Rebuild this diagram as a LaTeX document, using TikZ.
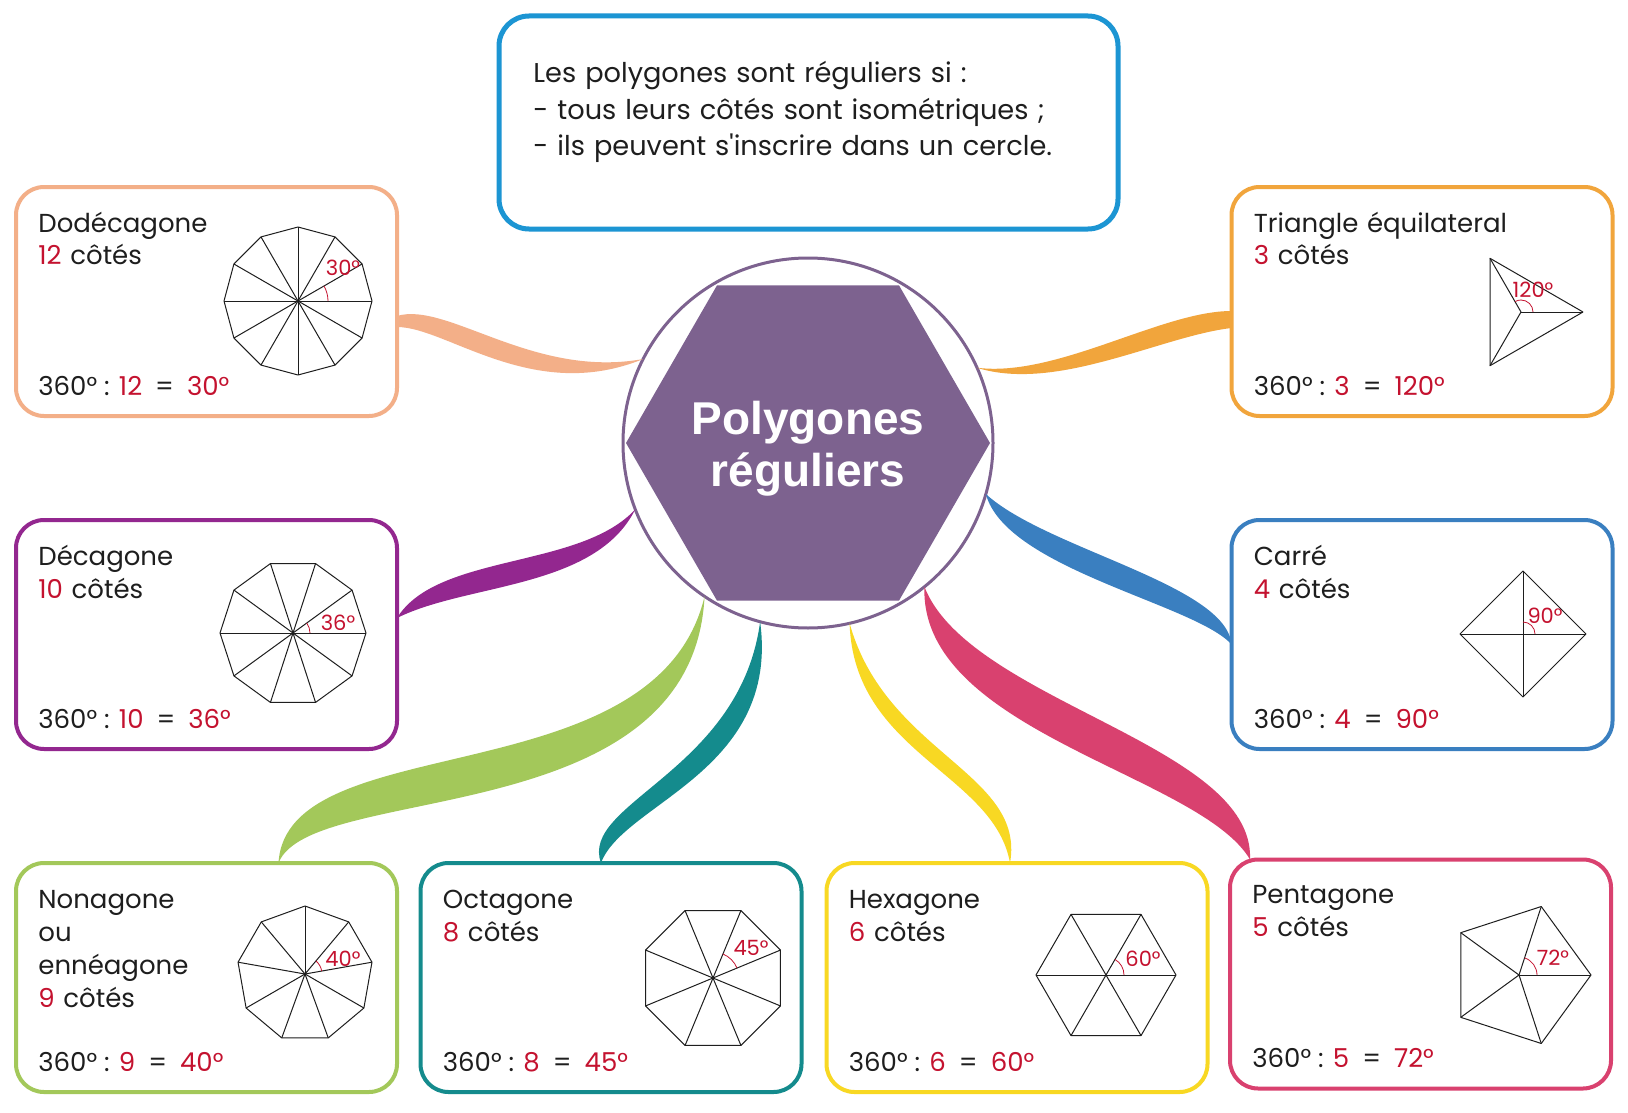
\documentclass[tikz,border=0pt]{standalone}
\usepackage{fontspec}
\setmainfont{Poppins}
\newfontfamily\hubfont{Liberation Sans}
\usetikzlibrary{shapes.geometric}
\definecolor{ink}{HTML}{1E1E1E}
\definecolor{numred}{HTML}{C4122F}
\definecolor{hubpurple}{HTML}{7D628F}
\definecolor{infoblue}{HTML}{1C95D3}
\definecolor{salmon}{HTML}{F3AF88}
\definecolor{plum}{HTML}{93278F}
\definecolor{leaf}{HTML}{A3C85A}
\definecolor{petrol}{HTML}{148B8D}
\definecolor{sun}{HTML}{F8D823}
\definecolor{rose}{HTML}{D9416F}
\definecolor{sky}{HTML}{3A7FC0}
\definecolor{amber}{HTML}{F1A53C}
\newcommand{\nb}[1]{\textcolor{numred}{#1}}
\newcommand{\eqsp}{\hspace{0.5em}}
\tikzstyle{card} = [rectangle, draw, line width=2pt, rounded corners=14pt, minimum width=190.5pt, minimum height=114.5pt, outer sep=0pt]
\tikzstyle{info} = [rectangle, draw=infoblue, line width=2.5pt, rounded corners=15pt, minimum width=309.5pt, minimum height=106.5pt, outer sep=0pt]
\tikzstyle{cardtext} = [anchor=base west, text width=175pt, align=left, inner sep=0pt, text=ink, font=\fontsize{13}{16.5}\selectfont]
\tikzstyle{infotext} = [anchor=base west, text width=295pt, align=left, inner sep=0pt, text=ink, font=\fontsize{13.6}{18.25}\selectfont]
\tikzstyle{formula} = [anchor=base west, inner sep=0pt, text=ink, font=\fontsize{13}{16.5}\selectfont]
\tikzstyle{anglab} = [inner sep=0pt, text=numred, font=\fontsize{10.5}{12}\selectfont]
\tikzstyle{edge} = [draw=ink, line width=0.5pt, line join=round]
\tikzstyle{anglearc} = [draw=numred, line width=0.4pt]
\tikzstyle{hubring} = [circle, draw=hubpurple, line width=1.5pt, minimum size=185pt, inner sep=0pt, outer sep=0pt]
\tikzstyle{hubcore} = [regular polygon, regular polygon sides=6, fill=hubpurple, minimum size=182pt, inner sep=0pt]
\tikzstyle{hubtitle} = [inner sep=0pt, text=white, align=center, font=\hubfont\bfseries\fontsize{23}{26}\selectfont]
% polygon with its spokes and the marked angle
\newcommand{\polyfig}[8]{%
	\begin{scope}[shift={(#1,#2)}, y=0.5pt]
		\draw [edge] (#5:#4) \foreach \k in {1,...,#3} { -- ({#5+\k*360/#3}:#4) };
		\foreach \k in {1,...,#3} \draw [edge] (0,0) -- ({#5+\k*360/#3}:#4);
		\draw [anglearc] (#5:#6) arc [start angle=#5, delta angle={360/#3}, radius=#6];
		\node [anglab] at (#7) {#8};
	\end{scope}}

\begin{document}
\begin{tikzpicture}[x=0.5pt, y=-0.5pt]
	\path [fill=white, use as bounding box] (0,0) rectangle (1628,1113);
	% Place nodes
	\node [info] (info) at (808.5,122.5) {};
	\node [infotext] (infot) at ([xshift=17pt,yshift=-33.5pt]info.north west) {Les polygones sont réguliers si :\\- tous leurs côtés sont isométriques ;\\- ils peuvent s\textquotesingle{}inscrire dans un cercle.};
	\node [hubring] (ring) at (808,443) {};
	\node [hubcore] (core) at (ring) {};
	\node [hubtitle] (title) at (808,449) {Polygones\\réguliers};
	\node [card, draw=salmon] (dodeca) at (206.5,301.5) {};
	\node [card, draw=plum] (deca) at (206.5,634.5) {};
	\node [card, draw=leaf] (nona) at (206.5,977.5) {};
	\node [card, draw=petrol] (octa) at (611,977.5) {};
	\node [card, draw=sun] (hexa) at (1017,977.5) {};
	\node [card, draw=rose] (penta) at (1420.5,974) {};
	\node [card, draw=sky] (carre) at (1422,634.5) {};
	\node [card, draw=amber] (tri) at (1422,301.5) {};
	% texts of the cards
	\node [cardtext] (dodecat) at ([xshift=11pt,yshift=-22.5pt]dodeca.north west) {Dodécagone\\\nb{12} côtés};
	\node [cardtext] (decat) at ([xshift=11pt,yshift=-22.5pt]deca.north west) {Décagone\\\nb{10} côtés};
	\node [cardtext] (nonat) at ([xshift=11pt,yshift=-22.5pt]nona.north west) {Nonagone\\ou\\ennéagone\\\nb{9} côtés};
	\node [cardtext] (octat) at ([xshift=11pt,yshift=-22.5pt]octa.north west) {Octagone\\\nb{8} côtés};
	\node [cardtext] (hexat) at ([xshift=11pt,yshift=-22.5pt]hexa.north west) {Hexagone\\\nb{6} côtés};
	\node [cardtext] (pentat) at ([xshift=11pt,yshift=-22pt]penta.north west) {Pentagone\\\nb{5} côtés};
	\node [cardtext] (carret) at ([xshift=11pt,yshift=-22.5pt]carre.north west) {Carré\\\nb{4} côtés};
	\node [cardtext] (trit) at ([xshift=11pt,yshift=-22.5pt]tri.north west) {Triangle équilateral\\\nb{3} côtés};
	\node [formula] (dodecaf) at ([xshift=11pt,yshift=10.5pt]dodeca.south west) {360° : \nb{12}\eqsp=\eqsp\nb{30°}};
	\node [formula] (decaf) at ([xshift=11pt,yshift=10.5pt]deca.south west) {360° : \nb{10}\eqsp=\eqsp\nb{36°}};
	\node [formula] (nonaf) at ([xshift=11pt,yshift=10.5pt]nona.south west) {360° : \nb{9}\eqsp=\eqsp\nb{40°}};
	\node [formula] (octaf) at ([xshift=11pt,yshift=10.5pt]octa.south west) {360° : \nb{8}\eqsp=\eqsp\nb{45°}};
	\node [formula] (hexaf) at ([xshift=11pt,yshift=10.5pt]hexa.south west) {360° : \nb{6}\eqsp=\eqsp\nb{60°}};
	\node [formula] (pentaf) at ([xshift=11pt,yshift=10.5pt]penta.south west) {360° : \nb{5}\eqsp=\eqsp\nb{72°}};
	\node [formula] (carref) at ([xshift=11pt,yshift=10.5pt]carre.south west) {360° : \nb{4}\eqsp=\eqsp\nb{90°}};
	\node [formula] (trif) at ([xshift=11pt,yshift=10.5pt]tri.south west) {360° : \nb{3}\eqsp=\eqsp\nb{120°}};
	% Draw polygons
	\polyfig{298}{301}{12}{74}{0}{30}{45,33}{30°}
	\polyfig{293}{633}{10}{73}{0}{17}{45,10}{36°}
	\polyfig{305}{974}{9}{68}{10}{17}{38,15}{40°}
	\polyfig{713}{978}{8}{73}{22.5}{26}{38,30}{45°}
	\polyfig{1106}{975}{6}{70}{0}{18}{37,16}{60°}
	\polyfig{1519}{975}{5}{72}{0}{18}{34,17}{72°}
	\polyfig{1523}{634}{4}{63}{0}{12}{22,18}{90°}
	\polyfig{1521}{312}{3}{62}{0}{12}{12,22}{120°}
	% Draw edges
	\fill [salmon] (ring.153) .. controls +(-110,20) and +(50,-15) .. ([yshift=-7.25pt]dodeca.east) -- ([yshift=-12.75pt]dodeca.east) .. controls +(50,0) and +(-110,45) .. (ring.153);
	\fill [plum] (ring.201.5) .. controls +(-55,60) and +(40,-65) .. ([yshift=8.25pt]deca.east) .. controls +(70,-35) and +(-40,80) .. (ring.201.5);
	\fill [leaf] (ring.236.7) .. controls +(-48,202) and +(8,-138) .. ([xshift=36pt]nona.north) .. controls +(32,-82) and +(-12,238) .. (ring.236.7);
	\fill [petrol] (ring.255.2) .. controls +(-20,150) and +(-22,-60) .. ([xshift=-5pt]octa.north) .. controls +(22,-60) and +(20,150) .. (ring.255.2);
	\fill [sun] (ring.283.3) .. controls +(4,130) and +(-16,-90) .. ([xshift=-3.5pt]hexa.north) .. controls +(16,-90) and +(36,130) .. (ring.283.3);
	\fill [rose] (ring.309.1) .. controls +(-5,145) and +(-50,-85) .. ([xshift=10pt]penta.north west) .. controls +(5,-115) and +(45,115) .. (ring.309.1);
	\fill [sky] (ring.344.2) .. controls +(60,55) and +(-5,-60) .. ([yshift=-5pt]carre.west) .. controls +(-35,-40) and +(20,75) .. (ring.344.2);
	\fill [amber] (ring.24.9) .. controls +(80,10) and +(-70,0) .. ([yshift=-4.75pt]tri.west) -- ([yshift=-13.25pt]tri.west) .. controls +(-70,8) and +(80,25) .. (ring.24.9);
\end{tikzpicture}
\end{document}
